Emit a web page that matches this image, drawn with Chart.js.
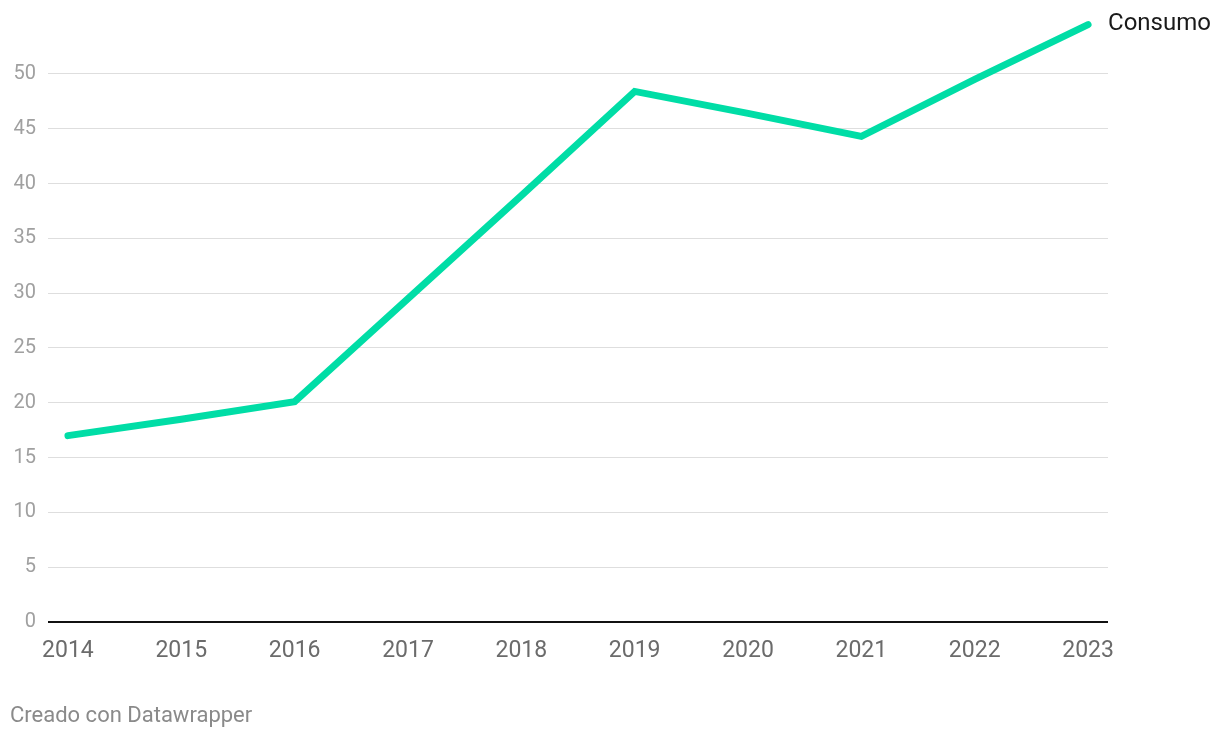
<!DOCTYPE html>
<html>
<head>
<meta charset="utf-8">
<script src="https://cdn.jsdelivr.net/npm/chart.js@4"></script>
<style>
  html, body { margin: 0; padding: 0; background: #fff; }
  #wrap { position: relative; width: 1220px; height: 738px; }
  #footer { position: absolute; left: 10px; top: 702px; font: 22px Roboto, sans-serif; color: #8a8a8a; }
</style>
</head>
<body>
<div id="wrap">
  <canvas id="chart" width="1220" height="738"></canvas>
  <div id="footer">Creado con Datawrapper</div>
</div>
<script>
// datos
var anios = [2014, 2015, 2016, 2017, 2018, 2019, 2020, 2021, 2022, 2023];
var consumo = [17.0, 18.5, 20.1, 29.5, 38.9, 48.4, 46.4, 44.3, 49.5, 54.5];
var serieNombre = 'Consumo';
var yTicks = [0, 5, 10, 15, 20, 25, 30, 35, 40, 45, 50];

var verde = '#00dda6';

// etiqueta al final de la linea
var etiquetaFinal = {
	id: 'etiquetaFinal',
	afterDatasetsDraw: function(chart) {
		var meta = chart.getDatasetMeta(0);
		var p = meta.data[meta.data.length - 1];
		var ctx = chart.ctx;
		ctx.save();
		ctx.font = '24px Roboto';
		ctx.fillStyle = '#1a1a1a';
		ctx.textBaseline = 'middle';
		ctx.fillText(serieNombre, p.x + 20, p.y - 1);
		ctx.restore();
	}
};

// linea del cero
var lineaCero = {
	id: 'lineaCero',
	beforeDatasetsDraw: function(chart) {
		var y = chart.scales.y.getPixelForValue(0);
		var a = chart.chartArea;
		var ctx = chart.ctx;
		ctx.save();
		ctx.strokeStyle = '#111';
		ctx.lineWidth = 2;
		ctx.beginPath();
		ctx.moveTo(a.left, y);
		ctx.lineTo(a.right, y);
		ctx.stroke();
		ctx.restore();
	}
};

new Chart(document.getElementById('chart'), {
	type: 'line',
	data: {
		datasets: [{
			label: serieNombre,
			data: anios.map(function(a, i) { return {x: a, y: consumo[i]}; }),
			borderColor: verde,
			borderWidth: 7,
			borderCapStyle: 'round',
			borderJoinStyle: 'miter',
			pointRadius: 0,
			tension: 0,
			clip: false
		}]
	},
	options: {
		responsive: false,
		animation: false,
		layout: { padding: { left: 0, right: 112, top: 0, bottom: 0 } },
		plugins: { legend: { display: false }, tooltip: { enabled: false } },
		scales: {
			x: {
				type: 'linear',
				min: 2013.824,
				max: 2023.176,
				grid: { display: false },
				border: { display: false },
				afterBuildTicks: function(s) { s.ticks = anios.map(function(a) { return {value: a}; }); },
				afterFit: function(s) { s.height = 116; },
				ticks: {
					autoSkip: false,
					maxRotation: 0,
					padding: 7,
					color: '#6b6b6b',
					font: { family: 'Roboto', size: 23 },
					callback: function(v) { return String(v); }
				}
			},
			y: {
				min: 0,
				max: 54.55,
				grid: { color: '#dedede', lineWidth: 1, drawTicks: false },
				border: { display: false },
				afterBuildTicks: function(s) { s.ticks = yTicks.map(function(v) { return {value: v}; }); },
				afterFit: function(s) { s.width = 48; },
				ticks: {
					padding: 12,
					color: '#a0a0a0',
					font: { family: 'Roboto', size: 20 }
				}
			}
		}
	},
	plugins: [lineaCero, etiquetaFinal]
});
</script>
</body>
</html>
